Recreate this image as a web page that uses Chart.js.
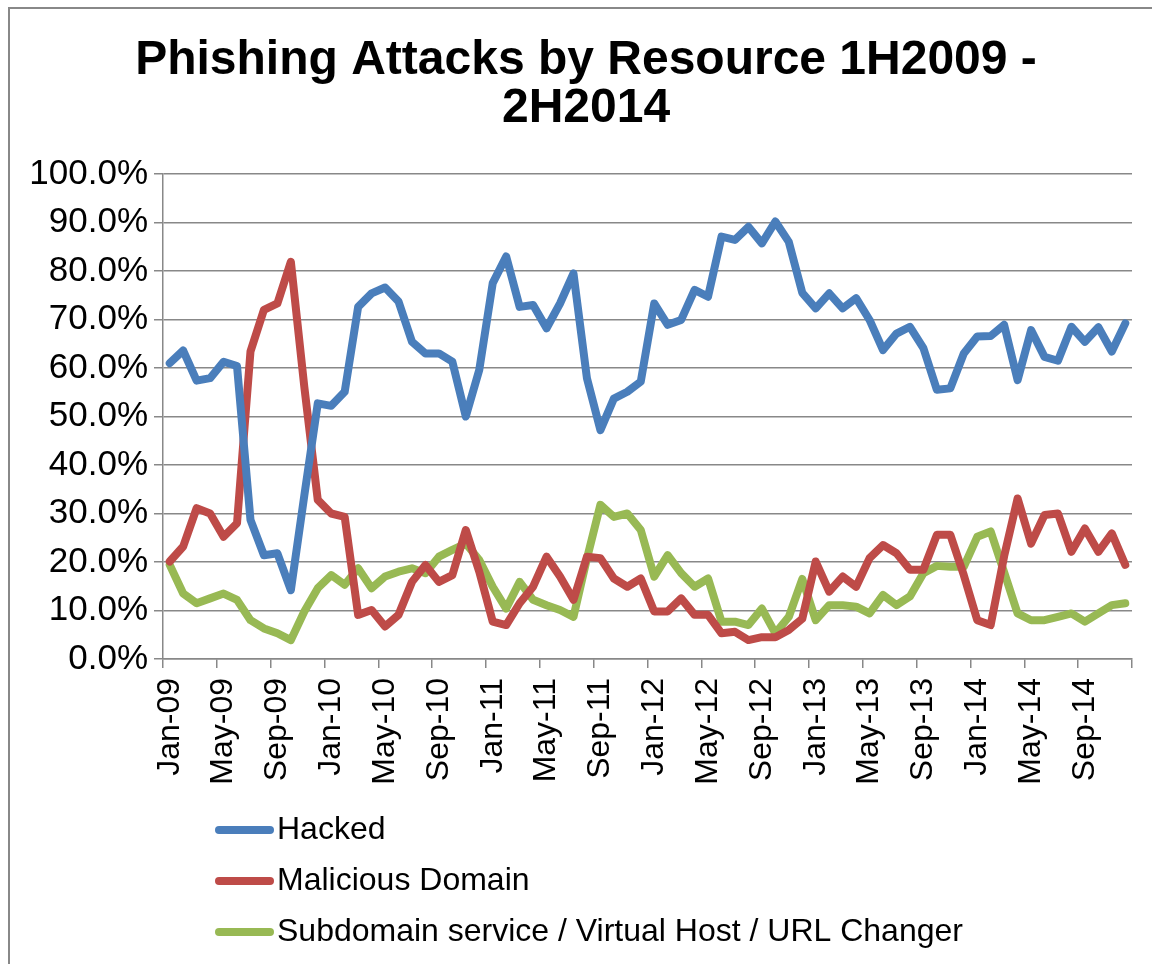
<!DOCTYPE html>
<html>
<head>
<meta charset="utf-8">
<title>Phishing Attacks by Resource</title>
<script src="https://cdn.jsdelivr.net/npm/chart.js@4.4.1/dist/chart.umd.min.js"></script>
<style>
  html, body { margin: 0; padding: 0; background: #fff; }
</style>
</head>
<body>
<canvas id="chart" width="1152" height="964"></canvas>
<script>
// Monthly share of phishing attacks by resource type, Jan 2009 - Dec 2014 (percent)
const monthNames = ["Jan", "Feb", "Mar", "Apr", "May", "Jun", "Jul", "Aug", "Sep", "Oct", "Nov", "Dec"];
const years = ["09", "10", "11", "12", "13", "14"];
const months = [];
years.forEach((y) => monthNames.forEach((m) => months.push(m + "-" + y)));

const titleLines = ["Phishing Attacks by Resource 1H2009 -", "2H2014"];
const seriesNames = ["Hacked", "Malicious Domain", "Subdomain service / Virtual Host / URL Changer"];

const hacked = [
  61.0, 63.6, 57.4, 57.9, 61.3, 60.4, 28.7, 21.4, 21.8, 14.2, 33.7, 52.7,
  52.2, 55.1, 72.6, 75.4, 76.6, 73.7, 65.4, 63.0, 63.0, 61.3, 50.0, 59.6,
  77.5, 83.0, 72.6, 73.0, 68.2, 73.3, 79.5, 57.9, 47.2, 53.7, 55.1, 57.2,
  73.3, 68.9, 69.9, 76.1, 74.7, 87.1, 86.4, 89.1, 85.7, 90.2, 86.0, 75.5,
  72.3, 75.4, 72.3, 74.4, 69.9, 63.7, 67.1, 68.5, 64.1, 55.5, 55.8, 63.0,
  66.5, 66.6, 68.9, 57.5, 67.8, 62.3, 61.5, 68.5, 65.4, 68.4, 63.4, 69.2
];
const malicious = [
  20.1, 23.2, 31.1, 30.0, 25.2, 28.0, 63.4, 72.0, 73.3, 81.9, 56.1, 32.8,
  30.0, 29.3, 9.1, 10.1, 6.7, 9.1, 15.9, 19.4, 15.9, 17.3, 26.6, 18.0,
  7.7, 7.0, 11.5, 14.9, 21.1, 17.0, 12.2, 21.1, 20.8, 16.6, 14.9, 16.6,
  9.8, 9.8, 12.5, 9.1, 9.1, 5.3, 5.6, 3.9, 4.5, 4.5, 6.0, 8.3,
  20.1, 13.9, 17.0, 14.9, 20.8, 23.5, 21.8, 18.4, 18.4, 25.6, 25.6, 17.3,
  8.0, 7.0, 21.2, 33.1, 23.8, 29.7, 30.0, 22.1, 26.9, 22.1, 25.9, 19.4
];
const subdomain = [
  19.4, 13.5, 11.5, 12.5, 13.5, 12.2, 8.0, 6.3, 5.3, 3.9, 9.8, 14.6,
  17.3, 15.3, 18.7, 14.6, 17.0, 18.0, 18.7, 17.7, 21.1, 22.5, 23.8, 20.4,
  14.9, 10.4, 15.9, 12.2, 11.1, 10.1, 8.7, 20.7, 31.8, 29.3, 30.0, 26.6,
  17.0, 21.4, 17.7, 14.9, 16.6, 7.7, 7.7, 7.0, 10.4, 5.3, 8.7, 16.5,
  8.0, 11.1, 11.1, 10.8, 9.4, 13.2, 11.1, 12.9, 17.7, 19.2, 19.0, 19.0,
  25.2, 26.3, 17.9, 9.4, 8.0, 8.0, 8.7, 9.4, 7.7, 9.4, 11.1, 11.5
];
const colors = ["#4A7EBB", "#BE4B48", "#98B954"];

const FONT = "'Liberation Sans', Arial, sans-serif";
const GRID = "#888888";

// white background, grey frame, and the two-line title (centred a bit right of the canvas middle)
const framePlugin = {
  id: "frame",
  beforeDraw(chart) {
    const ctx = chart.ctx;
    ctx.save();
    ctx.fillStyle = "#fff";
    ctx.fillRect(0, 0, chart.width, chart.height);
    ctx.strokeStyle = GRID;
    ctx.lineWidth = 2;
    ctx.strokeRect(9, 8, chart.width + 20, chart.height + 20);
    ctx.restore();
  },
  afterDraw(chart) {
    const ctx = chart.ctx;
    ctx.save();
    ctx.fillStyle = "#000";
    ctx.font = "bold 48px " + FONT;
    ctx.textAlign = "center";
    ctx.textBaseline = "middle";
    titleLines.forEach((t, i) => ctx.fillText(t, 586, 61 + i * 48));
    ctx.restore();
  }
};

// legend with one entry per row, under the axis labels
const rowLegend = {
  id: "rowLegend",
  afterDraw(chart) {
    const ctx = chart.ctx;
    const base = chart.scales.x.bottom;
    ctx.save();
    ctx.font = "32px " + FONT;
    ctx.textBaseline = "middle";
    chart.data.datasets.forEach((ds, i) => {
      const y = base + 36 + i * 51;
      ctx.strokeStyle = ds.borderColor;
      ctx.lineWidth = 8;
      ctx.lineCap = "round";
      ctx.beginPath();
      ctx.moveTo(219, y);
      ctx.lineTo(270, y);
      ctx.stroke();
      ctx.fillStyle = "#000";
      ctx.fillText(ds.label, 277, y);
    });
    ctx.restore();
  }
};

const seriesData = [hacked, malicious, subdomain];

new Chart(document.getElementById("chart"), {
  type: "line",
  data: {
    labels: months,
    datasets: seriesNames.map((name, i) => ({
      label: name,
      data: seriesData[i],
      borderColor: colors[i],
      backgroundColor: colors[i],
      borderWidth: 8,
      borderJoinStyle: "round",
      borderCapStyle: "round",
      pointRadius: 0,
      tension: 0,
      fill: false
    }))
  },
  options: {
    responsive: false,
    animation: false,
    layout: { padding: { left: 0, right: 20, top: 174, bottom: 170 } },
    plugins: {
      legend: { display: false },
      tooltip: { enabled: false },
      title: { display: false }
    },
    scales: {
      x: {
        offset: true,
        grid: {
          offset: true,
          drawOnChartArea: false,
          drawTicks: true,
          tickLength: 9,
          lineWidth: 1.5,
          color: (c) => (c.index === undefined || c.index % 4 === 0) ? GRID : "rgba(0,0,0,0)"
        },
        border: { display: true, color: GRID, width: 1.5 },
        ticks: {
          autoSkip: false,
          minRotation: 90,
          maxRotation: 90,
          padding: 10,
          color: "#000",
          font: { family: FONT, size: 32 },
          callback: function (v, i) { return i % 4 === 0 ? this.getLabelForValue(v) : ""; }
        },
        afterFit: (s) => { s.height = 135; s.paddingLeft = 0; s.paddingRight = 0; }
      },
      y: {
        min: 0,
        max: 100,
        ticks: {
          stepSize: 10,
          color: "#000",
          padding: 6,
          font: { family: FONT, size: 35 },
          callback: (v) => v.toFixed(1) + "%"
        },
        grid: { color: GRID, lineWidth: 1.5, tickLength: 9 },
        border: { color: GRID, width: 1.5 },
        afterFit: (s) => { s.width = 163; }
      }
    }
  },
  plugins: [framePlugin, rowLegend]
});
</script>
</body>
</html>
